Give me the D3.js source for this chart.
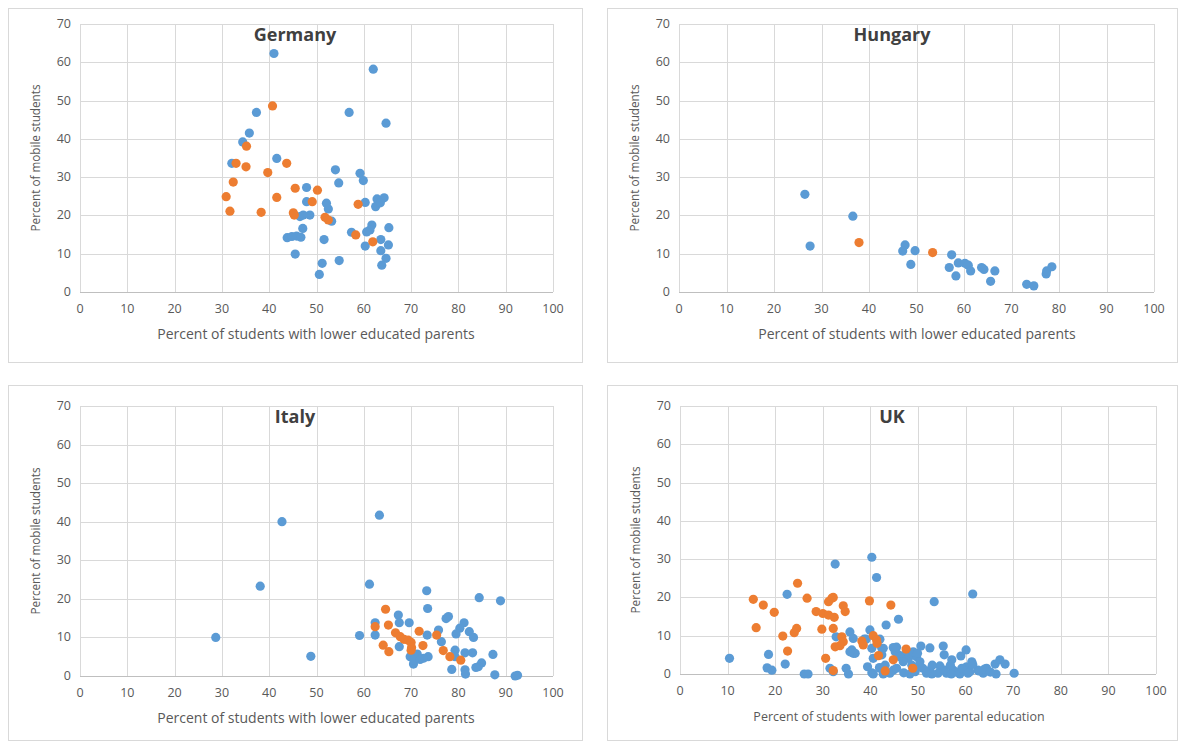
<!DOCTYPE html>
<html>
<head>
<meta charset="utf-8">
<script src="https://cdn.jsdelivr.net/npm/d3@7"></script>
<style>
  html, body { margin: 0; padding: 0; background: #fff; }
  svg { display: block; font-family: "Open Sans", "Noto Sans", sans-serif; }
</style>
</head>
<body>
<svg id="chart" width="1181" height="744"></svg>
<script>
// ---------------- DATA ----------------
const panelTitles = ["Germany", "Hungary", "Italy", "UK"];
const xAxisTitles = [
  "Percent of students with lower educated parents",
  "Percent of students with lower educated parents",
  "Percent of students with lower educated parents",
  "Percent of students with lower parental education"
];
const yAxisTitle = "Percent of mobile students";
const xTicks = [0, 10, 20, 30, 40, 50, 60, 70, 80, 90, 100];
const yTicks = [0, 10, 20, 30, 40, 50, 60, 70];

const germanyBlue = [[41.0,62.3],[62.0,58.2],[37.3,46.9],[56.9,46.9],[64.7,44.1],[35.8,41.5],[34.4,39.2],[41.6,34.9],[32.1,33.6],[54.0,31.9],[54.7,28.5],[59.2,31.0],[59.9,29.1],[47.9,27.3],[47.9,23.6],[52.1,23.2],[52.5,21.7],[60.3,23.4],[62.8,24.3],[64.3,24.6],[62.5,22.3],[63.5,23.3],[46.5,19.7],[47.2,20.1],[48.6,20.1],[53.2,18.5],[47.1,16.6],[61.7,17.5],[61.3,16.2],[60.6,15.7],[65.3,16.8],[57.4,15.6],[43.8,14.2],[44.8,14.5],[45.8,14.6],[46.7,14.3],[51.6,13.7],[60.3,12.0],[63.6,13.7],[65.2,12.3],[63.6,10.8],[45.5,9.9],[64.7,8.8],[63.8,7.0],[51.2,7.5],[54.8,8.2],[50.6,4.6]];
const germanyOrange = [[40.7,48.6],[35.2,38.1],[33.0,33.6],[43.7,33.6],[35.1,32.7],[39.7,31.2],[32.4,28.7],[30.9,24.9],[31.7,21.1],[38.3,20.8],[41.6,24.7],[45.5,27.1],[50.2,26.6],[49.1,23.6],[58.8,22.9],[45.1,20.7],[45.3,20.1],[51.8,19.5],[52.5,18.8],[58.3,14.9],[61.9,13.1]];

const hungaryBlue = [[26.5,25.5],[36.6,19.8],[27.6,12.0],[47.6,12.3],[47.1,10.7],[49.7,10.8],[48.8,7.2],[57.4,9.7],[56.9,6.4],[58.3,4.2],[58.8,7.6],[60.2,7.5],[60.9,7.0],[61.4,5.5],[63.7,6.4],[64.2,5.9],[66.5,5.5],[65.6,2.8],[73.2,2.0],[74.7,1.6],[77.3,4.7],[77.4,5.5],[78.5,6.6]];
const hungaryOrange = [[37.9,12.9],[53.4,10.3]];

const italyBlue = [[63.3,41.7],[42.7,40.0],[38.1,23.3],[61.2,23.8],[28.7,10.0],[59.1,10.5],[62.4,10.6],[62.4,13.8],[48.8,5.1],[73.3,22.1],[73.5,17.5],[84.4,20.3],[88.9,19.5],[67.3,15.8],[67.5,13.8],[69.6,13.8],[73.4,10.6],[75.8,11.9],[77.4,14.9],[77.9,15.4],[81.2,13.8],[80.3,12.4],[79.5,10.9],[82.3,11.5],[83.2,10.0],[67.5,7.6],[76.4,8.9],[79.3,6.7],[81.4,6.0],[83.0,6.0],[79.3,5.0],[87.3,5.6],[84.9,3.4],[84.2,2.4],[83.7,2.2],[78.6,1.7],[81.4,1.6],[81.5,0.5],[87.7,0.3],[92.0,0.0],[92.5,0.2],[73.6,5.0],[72.6,4.6],[71.3,5.7],[70.5,3.1],[69.8,5.0],[70.6,4.1],[71.9,4.3]];
const italyOrange = [[62.4,12.8],[64.6,17.3],[65.2,13.2],[66.7,11.2],[67.7,10.2],[68.5,9.5],[69.4,9.3],[70.0,8.7],[70.1,7.4],[70.0,6.7],[71.7,11.6],[72.5,7.9],[75.4,10.6],[64.1,8.0],[65.3,6.3],[76.8,6.6],[78.2,5.0],[80.5,4.1]];

const ukBlue = [[10.4,4.1],[18.6,5.1],[18.3,1.6],[19.3,1.0],[22.1,2.6],[22.5,20.8],[26.1,0],[26.9,0],[32.6,28.7],[40.3,30.5],[41.3,25.2],[35.7,11.0],[36.4,9.3],[32.8,9.7],[36.1,6.3],[36.4,5.4],[31.5,1.5],[34.9,1.5],[35.4,0],[39.9,11.5],[39.4,1.9],[40.3,0.3],[40.6,0],[41.9,1.7],[53.4,18.9],[61.5,20.9],[45.9,14.3],[43.3,12.8],[42.0,9.1],[38.7,9.1],[42.4,6.7],[45.5,7.0],[45.2,5.8],[45.9,5.0],[47.3,5.0],[49.0,5.4],[49.7,4.5],[50.6,7.3],[55.3,7.3],[55.5,5.0],[57.1,3.7],[60.1,6.3],[66.2,2.6],[67.2,3.7],[68.3,2.6],[66.4,0],[70.2,0.2],[42.7,0],[44.8,1.0],[48.3,0],[50.4,1.9],[52.5,1.0],[52.9,0],[54.6,2.1],[56.0,0.2],[57.4,1.0],[58.8,0],[60.2,1.9],[60.9,0.6],[62.6,1.0],[63.7,0.2],[64.4,1.5],[39.1,9.1],[40.3,6.7],[42.7,6.7],[42.4,5.0],[44.8,6.9],[40.6,4.1],[46.2,4.5],[48.0,4.1],[49.0,5.8],[32.2,0.6],[42.0,1.5],[43.1,2.3],[44.1,0.2],[45.5,1.5],[46.9,3.2],[48.7,2.3],[49.4,0.6],[50.4,3.2],[36.8,5.4],[35.7,5.8],[61.3,3.2],[49.9,5.4],[51.0,1.5],[53.0,2.3],[54.2,0.2],[55.5,1.0],[56.8,2.3],[58.0,0.5],[59.2,1.5],[60.5,0.2],[61.5,2.5],[62.8,0.8],[64.0,1.3],[65.2,0.5],[52.5,6.8],[59.0,4.7],[57.0,0],[47.0,0.3],[51.8,0.2]];
const ukOrange = [[15.4,19.5],[17.5,18.0],[19.8,16.1],[16.0,12.1],[24.7,23.7],[26.7,19.8],[24.5,11.9],[24.0,10.8],[21.6,9.9],[22.6,6.0],[28.6,16.3],[30.0,15.8],[31.2,15.4],[32.4,14.8],[31.2,18.9],[31.9,19.8],[32.2,20.0],[34.3,17.8],[34.7,16.3],[39.8,19.1],[29.8,11.7],[32.2,11.9],[34.0,9.7],[34.3,8.4],[32.6,7.1],[33.6,7.4],[30.6,4.1],[32.2,0.9],[38.2,8.6],[38.5,7.6],[40.6,10.0],[41.3,8.9],[41.4,8.0],[41.7,4.8],[44.3,18.0],[47.5,6.5],[44.8,3.7],[48.9,1.5],[43.1,0.8]];

const seriesBlue = [germanyBlue, hungaryBlue, italyBlue, ukBlue];
const seriesOrange = [germanyOrange, hungaryOrange, italyOrange, ukOrange];

// ---------------- LAYOUT ----------------
const panels = [
  {box:[8,8,574,354],   x:[80,553],   y:[292,24],  xtSize:14, xtCx:316},
  {box:[607,8,570,354], x:[679,1154], y:[292,24],  xtSize:14, xtCx:917},
  {box:[8,385,574,355], x:[80,553],   y:[676,406], xtSize:14, xtCx:316},
  {box:[607,385,570,355], x:[680,1156], y:[674,406], xtSize:12.5, xtCx:899}
];
const BLUE = "#5b9bd5", ORANGE = "#ed7d31", GRID = "#d9d9d9", TXT = "#595959";

const svg = d3.select("#chart");

panels.forEach((p, i) => {
  const g = svg.append("g");
  g.append("rect")
    .attr("x", p.box[0] + 0.5).attr("y", p.box[1] + 0.5)
    .attr("width", p.box[2]).attr("height", p.box[3])
    .attr("fill", "#fff").attr("stroke", GRID).attr("stroke-width", 1);

  const x = d3.scaleLinear().domain([0, 100]).range(p.x);
  const y = d3.scaleLinear().domain([0, 70]).range(p.y);

  // gridlines
  g.append("g").selectAll("line").data(yTicks.filter(d => d > 0)).join("line")
    .attr("x1", p.x[0]).attr("x2", p.x[1])
    .attr("y1", d => Math.round(y(d)) + 0.5).attr("y2", d => Math.round(y(d)) + 0.5)
    .attr("stroke", GRID).attr("stroke-width", 1);
  g.append("g").selectAll("line").data(xTicks).join("line")
    .attr("x1", d => Math.round(x(d)) + 0.5).attr("x2", d => Math.round(x(d)) + 0.5)
    .attr("y1", p.y[1]).attr("y2", p.y[0])
    .attr("stroke", GRID).attr("stroke-width", 1);

  // x axis baseline
  g.append("line")
    .attr("x1", p.x[0]).attr("x2", p.x[1])
    .attr("y1", Math.round(y(0)) + 0.5).attr("y2", Math.round(y(0)) + 0.5)
    .attr("stroke", "#bfbfbf").attr("stroke-width", 1.2);

  // tick labels
  g.append("g").selectAll("text").data(xTicks).join("text")
    .attr("x", d => x(d)).attr("y", y(0) + 21)
    .attr("text-anchor", "middle").attr("font-size", 12.5).attr("fill", TXT)
    .text(d => d);
  g.append("g").selectAll("text").data(yTicks).join("text")
    .attr("x", p.x[0] - 9).attr("y", d => y(d) + 4)
    .attr("text-anchor", "end").attr("font-size", 12.5).attr("fill", TXT)
    .text(d => d);

  // axis titles
  g.append("text")
    .attr("x", p.xtCx).attr("y", y(0) + 47)
    .attr("text-anchor", "middle").attr("font-size", p.xtSize).attr("fill", TXT)
    .text(xAxisTitles[i]);
  const yc = (p.y[0] + p.y[1]) / 2;
  g.append("text")
    .attr("transform", `translate(${p.x[0] - 40},${yc}) rotate(-90)`)
    .attr("text-anchor", "middle").attr("font-size", 11.7).attr("fill", TXT)
    .text(yAxisTitle);

  // chart title
  g.append("text")
    .attr("x", p.box[0] + p.box[2] / 2).attr("y", p.box[1] + (i < 2 ? 33 : 38))
    .attr("text-anchor", "middle").attr("font-size", 18).attr("font-weight", "bold")
    .attr("fill", "#404040")
    .text(panelTitles[i]);

  // points
  g.append("g").selectAll("circle").data(seriesBlue[i]).join("circle")
    .attr("cx", d => x(d[0])).attr("cy", d => y(d[1])).attr("r", 4.6)
    .attr("fill", BLUE);
  g.append("g").selectAll("circle").data(seriesOrange[i]).join("circle")
    .attr("cx", d => x(d[0])).attr("cy", d => y(d[1])).attr("r", 4.6)
    .attr("fill", ORANGE);
});
</script>
</body>
</html>
